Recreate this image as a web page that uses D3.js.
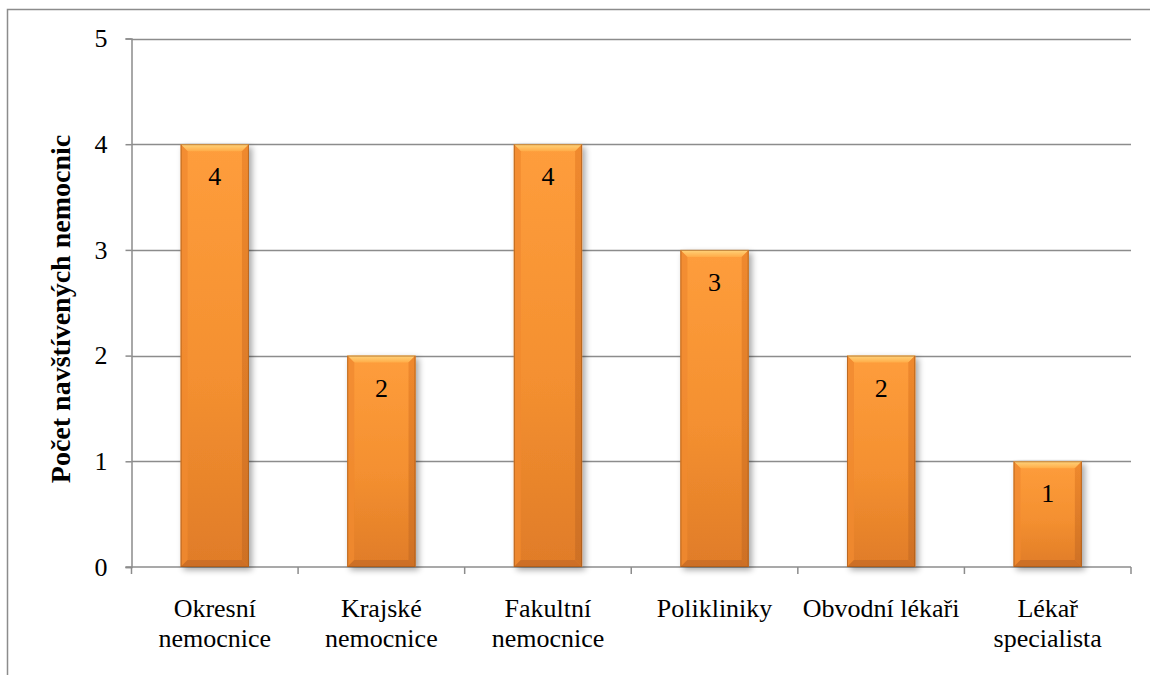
<!DOCTYPE html>
<html>
<head>
<meta charset="utf-8">
<script src="https://cdn.jsdelivr.net/npm/d3@7"></script>
<style>
  html, body { margin: 0; padding: 0; background: #fff; }
  svg { display: block; }
  text { font-family: "Liberation Serif", "Times New Roman", serif; fill: #000; }
</style>
</head>
<body>
<svg id="chart" width="1150" height="675"></svg>
<script>
// Data
const categories = [
  ["Okresní", "nemocnice"],
  ["Krajské", "nemocnice"],
  ["Fakultní", "nemocnice"],
  ["Polikliniky"],
  ["Obvodní lékaři"],
  ["Lékař", "specialista"]
];
const values = [4, 2, 4, 3, 2, 1];
const yTicks = [0, 1, 2, 3, 4, 5];
const yTitle = "Počet navštívených nemocnic";

const svg = d3.select("#chart");
const plot = { left: 131.5, right: 1131, top: 38.5, bottom: 567 };
const FONT = '"Liberation Serif", "Times New Roman", serif';

// Outer frame
svg.append("rect")
  .attr("x", 7.5).attr("y", 9.5)
  .attr("width", 1160).attr("height", 700)
  .attr("fill", "none").attr("stroke", "#8c8c8c").attr("stroke-width", 1.5);

const x = d3.scaleBand()
  .domain(d3.range(categories.length))
  .range([plot.left, plot.right])
  .paddingInner(0.59).paddingOuter(0.295);

const y = d3.scaleLinear().domain([0, 5]).range([plot.bottom, plot.top]);

// Gradients
const defs = svg.append("defs");
const gMain = defs.append("linearGradient").attr("id", "barMain")
  .attr("x1", 0).attr("y1", 0).attr("x2", 0).attr("y2", 1);
gMain.append("stop").attr("offset", "0%").attr("stop-color", "#fe9d3c");
gMain.append("stop").attr("offset", "55%").attr("stop-color", "#f49030");
gMain.append("stop").attr("offset", "100%").attr("stop-color", "#e07c28");

const gTop = defs.append("linearGradient").attr("id", "barTop")
  .attr("x1", 0).attr("y1", 0).attr("x2", 0).attr("y2", 1);
gTop.append("stop").attr("offset", "0%").attr("stop-color", "#ffd47c");
gTop.append("stop").attr("offset", "100%").attr("stop-color", "#ffac48");

const gSide = defs.append("linearGradient").attr("id", "barSide")
  .attr("x1", 0).attr("y1", 0).attr("x2", 0).attr("y2", 1);
gSide.append("stop").attr("offset", "0%").attr("stop-color", "#ee872c");
gSide.append("stop").attr("offset", "100%").attr("stop-color", "#cc6f24");

const shadow = defs.append("filter").attr("id", "shadow")
  .attr("x", "-20%").attr("y", "-5%").attr("width", "150%").attr("height", "115%");
shadow.append("feGaussianBlur").attr("in", "SourceAlpha").attr("stdDeviation", 3);
shadow.append("feOffset").attr("dx", 3).attr("dy", 3).attr("result", "b");
shadow.append("feComponentTransfer").append("feFuncA").attr("type", "linear").attr("slope", 0.35);
const merge = shadow.append("feMerge");
merge.append("feMergeNode");
merge.append("feMergeNode").attr("in", "SourceGraphic");

// Gridlines
svg.append("g")
  .selectAll("line")
  .data(yTicks.filter(d => d > 0))
  .join("line")
  .attr("x1", plot.left).attr("x2", plot.right)
  .attr("y1", d => Math.round(y(d)) + 0.5).attr("y2", d => Math.round(y(d)) + 0.5)
  .attr("stroke", "#8c8c8c").attr("stroke-width", 1.5);

// Y axis
const yAxis = svg.append("g")
  .attr("transform", `translate(${plot.left},0)`)
  .call(d3.axisLeft(y).tickValues(yTicks).tickSize(6).tickPadding(18).tickFormat(d3.format("d")));
yAxis.select(".domain").attr("stroke", "#8c8c8c").attr("stroke-width", 1.5);
yAxis.selectAll(".tick line").attr("stroke", "#8c8c8c").attr("stroke-width", 1.5);
yAxis.selectAll(".tick text")
  .attr("font-family", FONT).attr("font-size", 26).attr("fill", "#000");

// X axis with ticks at category boundaries
const xg = svg.append("g").attr("transform", `translate(0,${plot.bottom})`);
xg.append("line").attr("x1", plot.left - 6).attr("x2", plot.right)
  .attr("stroke", "#8c8c8c").attr("stroke-width", 1.5);
const step = x.step();
const bounds = d3.range(categories.length + 1).map(i => plot.left + i * step);
xg.selectAll("line.b").data(bounds).join("line").attr("class", "b")
  .attr("x1", d => d).attr("x2", d => d).attr("y1", 0).attr("y2", 7)
  .attr("stroke", "#8c8c8c").attr("stroke-width", 1.5);

// Category labels
const labels = svg.append("g").selectAll("text").data(categories).join("text")
  .attr("text-anchor", "middle")
  .attr("font-size", 26)
  .attr("x", (d, i) => x(i) + x.bandwidth() / 2)
  .attr("y", 617);
labels.selectAll("tspan").data(d => d).join("tspan")
  .attr("x", function () { return d3.select(this.parentNode).attr("x"); })
  .attr("dy", (d, i) => i === 0 ? 0 : 30)
  .text(d => d);

// Bars with bevelled edges
const bev = 7;
const bars = svg.append("g").selectAll("g").data(values).join("g")
  .attr("filter", "url(#shadow)");
bars.each(function (v, i) {
  const g = d3.select(this);
  const x0 = x(i), x1 = x(i) + x.bandwidth();
  const y0 = y(v), y1 = y(0);
  g.append("rect").attr("x", x0).attr("y", y0)
    .attr("width", x1 - x0).attr("height", y1 - y0)
    .attr("fill", "url(#barMain)");
  // top bevel
  g.append("polygon")
    .attr("points", [[x0, y0], [x1, y0], [x1 - bev, y0 + bev], [x0 + bev, y0 + bev]].join(" "))
    .attr("fill", "url(#barTop)");
  // left bevel
  g.append("polygon")
    .attr("points", [[x0, y0], [x0 + bev, y0 + bev], [x0 + bev, y1 - bev], [x0, y1]].join(" "))
    .attr("fill", "#f08a2f").attr("opacity", 0.8);
  // right bevel
  g.append("polygon")
    .attr("points", [[x1, y0], [x1 - bev, y0 + bev], [x1 - bev, y1 - bev], [x1, y1]].join(" "))
    .attr("fill", "url(#barSide)").attr("opacity", 0.9);
  // bottom bevel
  g.append("polygon")
    .attr("points", [[x0, y1], [x0 + bev, y1 - bev], [x1 - bev, y1 - bev], [x1, y1]].join(" "))
    .attr("fill", "#c96c25").attr("opacity", 0.85);
  // thin dark edge
  g.append("rect").attr("x", x0 + 0.5).attr("y", y0 + 0.5)
    .attr("width", x1 - x0 - 1).attr("height", y1 - y0 - 1)
    .attr("fill", "none").attr("stroke", "#9a5418").attr("stroke-opacity", 0.6).attr("stroke-width", 1);
});

// Value labels
svg.append("g").selectAll("text").data(values).join("text")
  .attr("text-anchor", "middle")
  .attr("font-size", 26)
  .attr("x", (d, i) => x(i) + x.bandwidth() / 2)
  .attr("y", d => y(d) + 41)
  .text(d => d);

// Y axis title
svg.append("text")
  .attr("transform", `translate(70,309) rotate(-90)`)
  .attr("text-anchor", "middle")
  .attr("font-size", 28).attr("font-weight", "bold")
  .text(yTitle);
</script>
</body>
</html>
